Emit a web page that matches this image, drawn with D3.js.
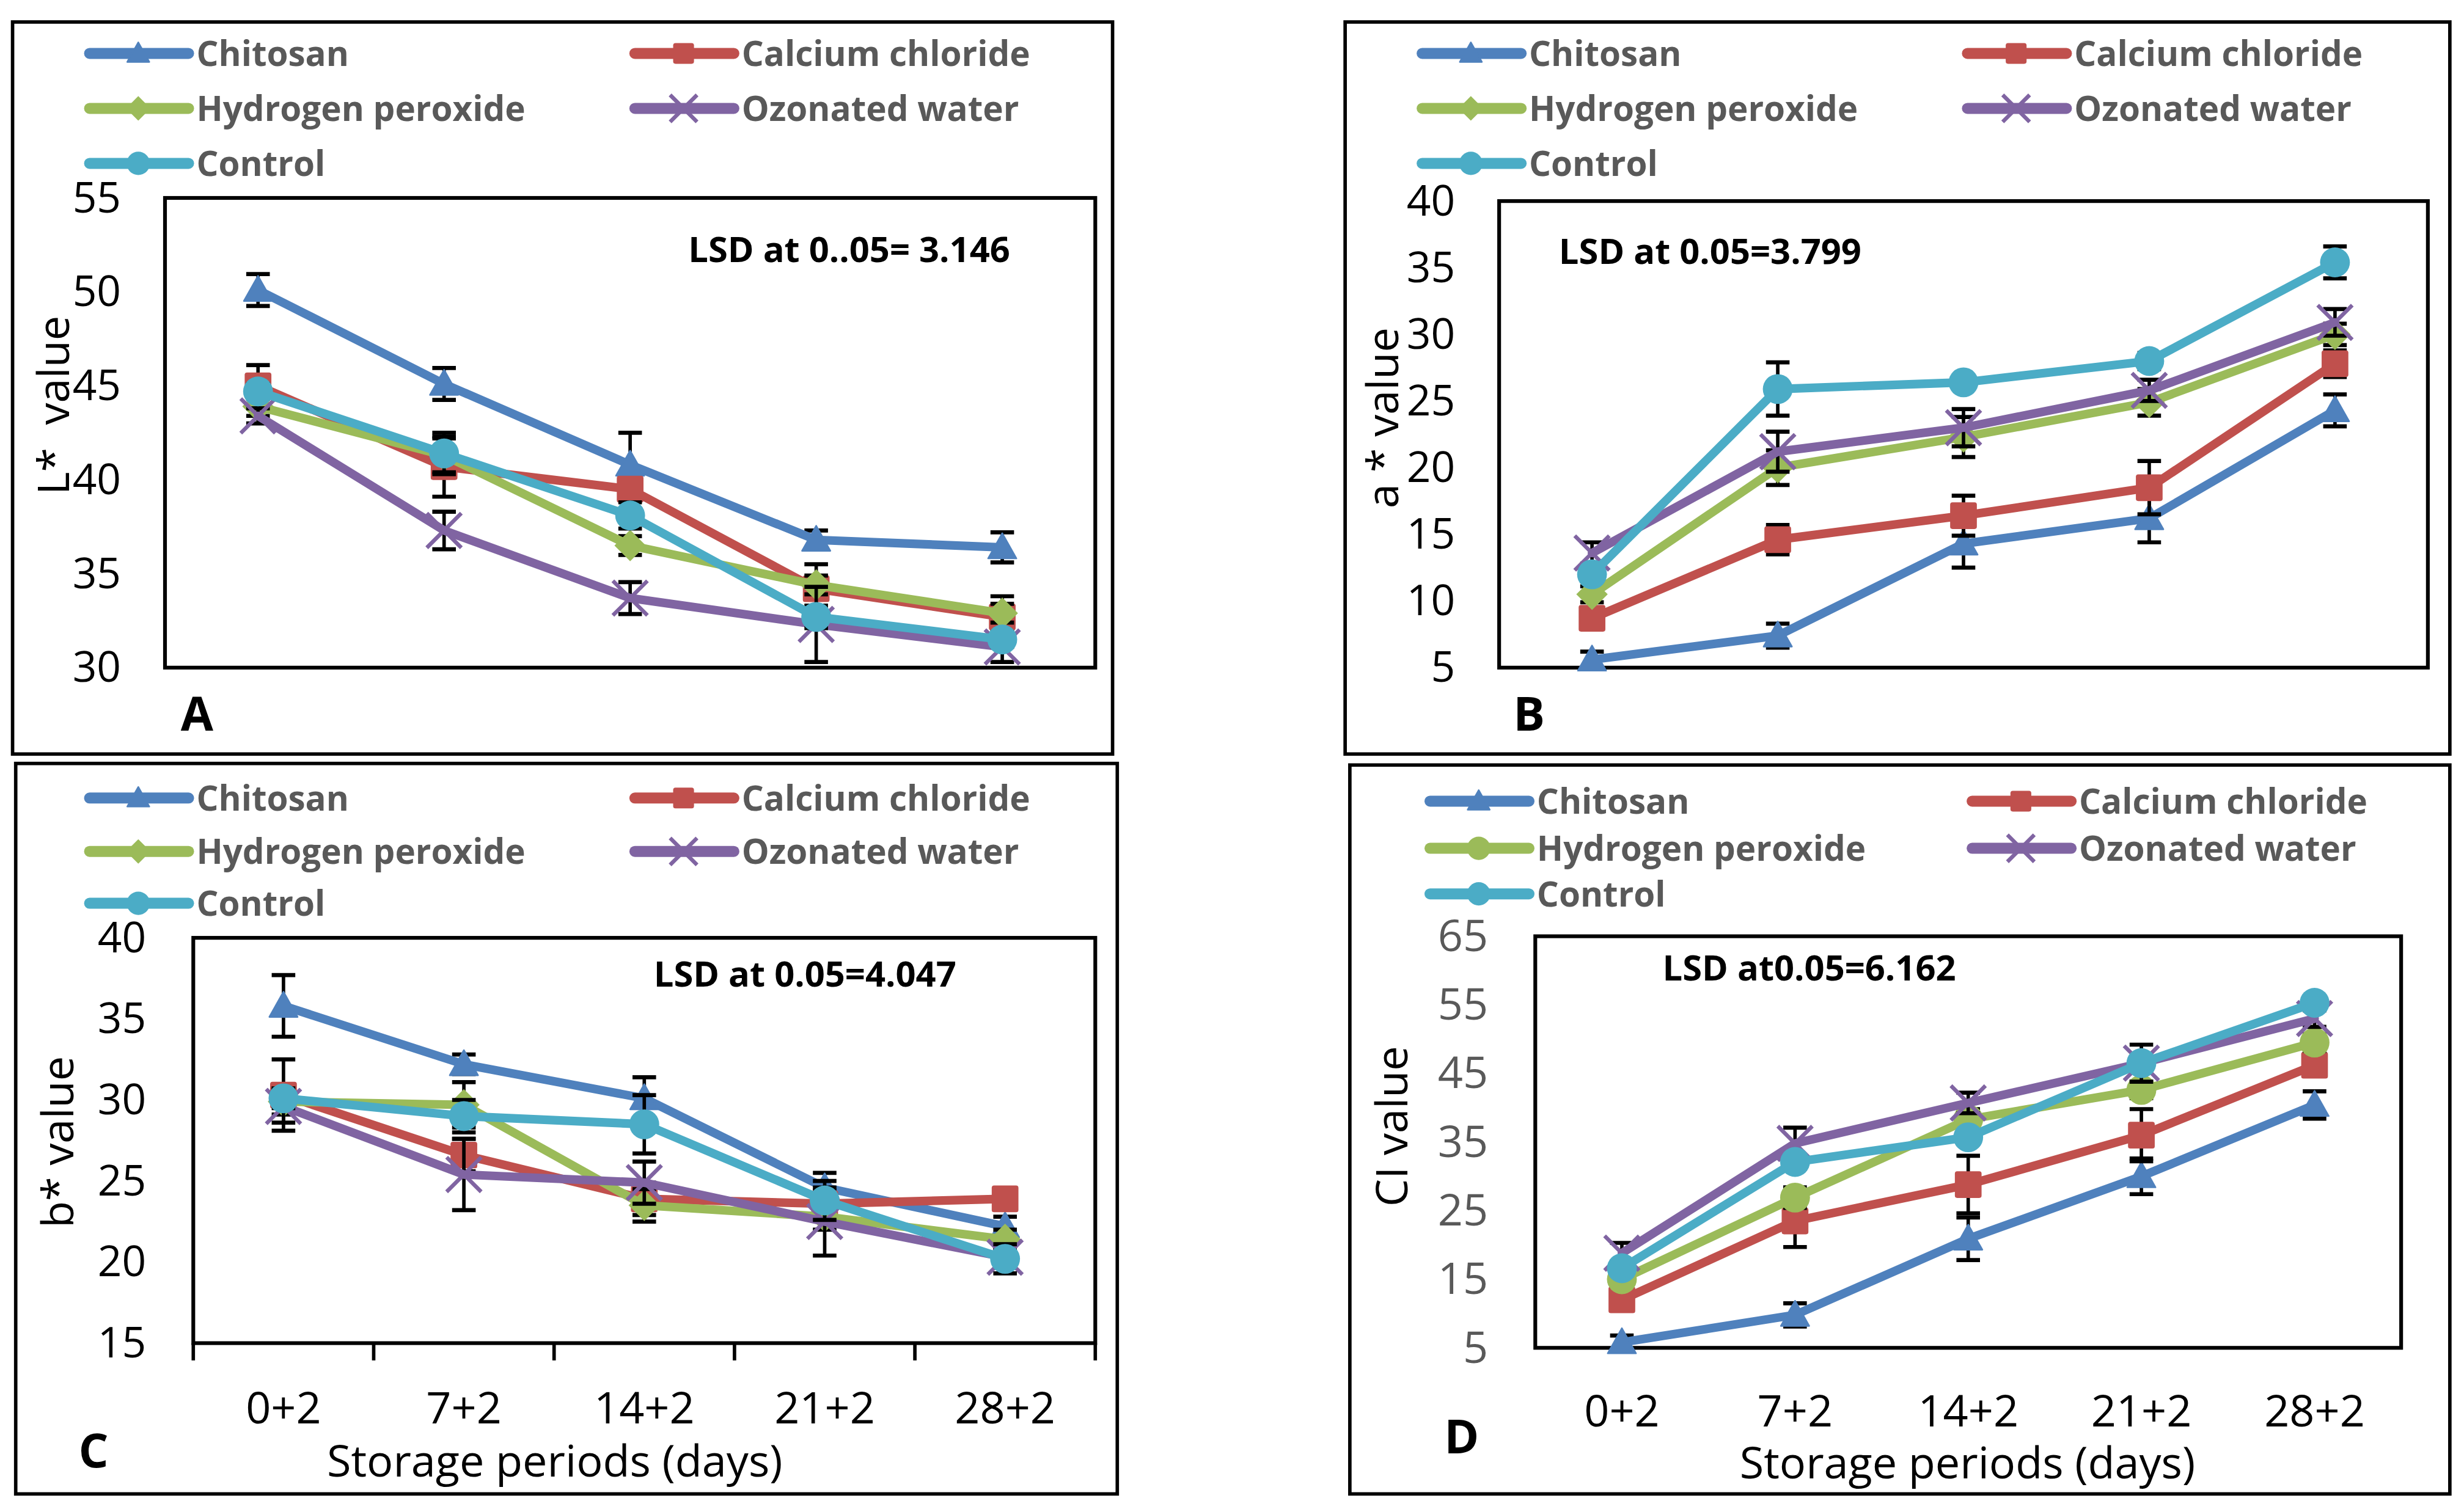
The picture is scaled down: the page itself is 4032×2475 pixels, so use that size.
<!DOCTYPE html>
<html>
<head>
<meta charset="utf-8">
<script src="https://cdn.jsdelivr.net/npm/d3@7"></script>
<style>
  body { margin: 0; background: #fff; }
  text { font-family: "Open Sans", sans-serif; }
</style>
</head>
<body>
<script>
// Four colour panels: L*, a*, b* and CI values over storage periods

const periods = ["0+2", "7+2", "14+2", "21+2", "28+2"];
const seriesNames = ["Chitosan", "Calcium chloride", "Hydrogen peroxide", "Ozonated water", "Control"];
const seriesColors = ["#4F81BD", "#C0504D", "#9BBB59", "#8064A2", "#4BACC6"];

// Panel A - L* value
const lChitosan = [50.1, 45.1, 40.8, 36.8, 36.4];
const lCalcium  = [45.0, 40.7, 39.5, 34.2, 32.7];
const lPeroxide = [43.9, 41.3, 36.5, 34.4, 32.9];
const lOzonated = [43.4, 37.3, 33.7, 32.3, 31.1];
const lControl  = [44.7, 41.4, 38.1, 32.7, 31.5];
const lErrChitosan = [0.85, 0.85, 1.7, 0.5, 0.8];
const lErrCalcium  = [1.1, 1.6, 0.6, 1.3, 1.1];
const lErrPeroxide = [0.5, 0.9, 0.5, 0.5, 0.5];
const lErrOzonated = [0.4, 1.0, 0.85, 2.0, 0.8];
const lErrControl  = [0.4, 1.1, 0.7, 0.6, 0.4];
const lTicks = [30, 35, 40, 45, 50, 55];

// Panel B - a* value
const aChitosan = [5.6, 7.4, 14.3, 16.2, 24.3];
const aCalcium  = [8.7, 14.6, 16.4, 18.5, 27.8];
const aPeroxide = [10.5, 20.0, 22.3, 24.9, 30.0];
const aOzonated = [13.6, 21.2, 23.0, 25.8, 30.9];
const aControl  = [12.0, 25.9, 26.4, 28.0, 35.4];
const aErrChitosan = [0.6, 0.9, 1.8, 1.8, 1.2];
const aErrCalcium  = [0.5, 1.1, 1.5, 2.0, 1.0];
const aErrPeroxide = [0.6, 1.3, 1.5, 1.0, 0.8];
const aErrOzonated = [0.8, 1.5, 1.4, 0.8, 1.0];
const aErrControl  = [0.5, 2.0, 0.5, 0.6, 1.2];
const aTicks = [5, 10, 15, 20, 25, 30, 35, 40];

// Panel C - b* value
const bChitosan = [35.8, 32.2, 30.1, 24.6, 22.2];
const bCalcium  = [30.3, 26.6, 23.9, 23.6, 23.9];
const bPeroxide = [29.9, 29.7, 23.5, 22.8, 21.4];
const bOzonated = [29.6, 25.4, 24.9, 22.5, 20.3];
const bControl  = [30.1, 29.0, 28.5, 23.8, 20.2];
const bErrChitosan = [1.9, 0.6, 1.3, 0.9, 0.6];
const bErrCalcium  = [2.2, 1.0, 1.0, 0.8, 0.4];
const bErrPeroxide = [0.8, 1.4, 1.0, 0.8, 0.6];
const bErrOzonated = [1.0, 2.2, 1.3, 2.1, 0.6];
const bErrControl  = [0.6, 1.0, 1.8, 1.2, 0.9];
const bTicks = [15, 20, 25, 30, 35, 40];

// Panel D - CI value
const ciChitosan = [5.8, 9.8, 20.9, 30.0, 40.4];
const ciCalcium  = [12.0, 23.5, 28.8, 36.0, 46.2];
const ciPeroxide = [15.0, 26.9, 38.3, 42.6, 49.5];
const ciOzonated = [18.8, 34.8, 40.7, 46.5, 53.0];
const ciControl  = [16.6, 32.1, 35.7, 46.5, 55.3];
const ciErrChitosan = [1.0, 1.7, 3.1, 2.6, 2.0];
const ciErrCalcium  = [1.0, 3.8, 4.2, 3.8, 1.0];
const ciErrPeroxide = [1.0, 1.5, 1.5, 1.2, 1.2];
const ciErrOzonated = [1.5, 2.3, 1.5, 2.7, 1.2];
const ciErrControl  = [1.0, 1.0, 1.0, 1.0, 1.0];
const ciTicks = [5, 15, 25, 35, 45, 55, 65];

let svgWidth = 4032;
let svgHeight = 2475;
let vbW = 1568;
let vbH = svgHeight * vbW / svgWidth;

let svg = d3.select("body")
            .append("svg")
            .attr("width", svgWidth)
            .attr("height", svgHeight)
            .attr("viewBox", `0 0 ${vbW} ${vbH}`);

svg.append("rect").attr("width", vbW).attr("height", vbH).attr("fill", "#fff");

let panels = [
  {
    frame: [8, 14, 700, 466], plot: [105, 126, 697, 425],
    domain: [30, 55], ticks: lTicks, tickPad: 28, tickColor: "#000",
    values: [lChitosan, lCalcium, lPeroxide, lOzonated, lControl],
    errors: [lErrChitosan, lErrCalcium, lErrPeroxide, lErrOzonated, lErrControl],
    yTitle: "L*  value", yTitleX: 34, yTitleY: 258,
    lsd: "LSD at 0..05= 3.146", lsdX: 438, lsdY: 167,
    letter: "A", letterX: 115, letterY: 465,
    legendX: [54, 401], legendY: [34, 69, 104], peroxideShape: "diamond",
    xAxis: false
  },
  {
    frame: [856, 14, 703, 466], plot: [954, 128, 1545, 425],
    domain: [5, 40], ticks: aTicks, tickPad: 28, tickColor: "#000",
    values: [aChitosan, aCalcium, aPeroxide, aOzonated, aControl],
    errors: [aErrChitosan, aErrCalcium, aErrPeroxide, aErrOzonated, aErrControl],
    yTitle: "a * value", yTitleX: 880, yTitleY: 266,
    lsd: "LSD at 0.05=3.799", lsdX: 992, lsdY: 168,
    letter: "B", letterX: 963, letterY: 465,
    legendX: [902, 1249], legendY: [34, 69, 104], peroxideShape: "diamond",
    xAxis: false
  },
  {
    frame: [10, 486, 701, 465], plot: [123, 597, 697, 855],
    domain: [15, 40], ticks: bTicks, tickPad: 30, tickColor: "#000",
    values: [bChitosan, bCalcium, bPeroxide, bOzonated, bControl],
    errors: [bErrChitosan, bErrCalcium, bErrPeroxide, bErrOzonated, bErrControl],
    yTitle: "b* value", yTitleX: 37, yTitleY: 727,
    lsd: "LSD at 0.05=4.047", lsdX: 416, lsdY: 628,
    letter: "C", letterX: 50, letterY: 934,
    legendX: [54, 401], legendY: [508, 542, 575], peroxideShape: "diamond",
    xAxis: true, xTicks: true, xLabelY: 906, xTitleX: 353, xTitleY: 940
  },
  {
    frame: [859, 487, 700, 464], plot: [977, 596, 1528, 858],
    domain: [5, 65], ticks: ciTicks, tickPad: 30, tickColor: "#595959",
    values: [ciChitosan, ciCalcium, ciPeroxide, ciOzonated, ciControl],
    errors: [ciErrChitosan, ciErrCalcium, ciErrPeroxide, ciErrOzonated, ciErrControl],
    yTitle: "CI value", yTitleX: 886, yTitleY: 717,
    lsd: "LSD at0.05=6.162", lsdX: 1058, lsdY: 624,
    letter: "D", letterX: 919, letterY: 925,
    legendX: [907, 1252], legendY: [510, 540, 569], peroxideShape: "circle",
    xAxis: true, xTicks: false, xLabelY: 908, xTitleX: 1252, xTitleY: 941
  }
];

// draw a marker shape centred on 0,0, s scales it
function marker(g, shape, color, s) {
  if (shape === "triangle") {
    g.append("path").attr("d", `M0,${-9 * s}L${9 * s},${7 * s}L${-9 * s},${7 * s}Z`)
     .attr("fill", color).attr("stroke", color).attr("stroke-width", 1).attr("stroke-linejoin", "round");
  } else if (shape === "square") {
    g.append("rect").attr("x", -8.5 * s).attr("y", -8.5 * s)
     .attr("width", 17 * s).attr("height", 17 * s).attr("rx", 1.5).attr("fill", color);
  } else if (shape === "diamond") {
    g.append("path").attr("d", `M0,${-10 * s}L${10 * s},0L0,${10 * s}L${-10 * s},0Z`).attr("fill", color);
  } else if (shape === "circle") {
    g.append("circle").attr("r", 9.5 * s).attr("fill", color);
  } else if (shape === "x") {
    let r = 11 * s;
    g.append("path").attr("d", `M${-r},${-r}L${r},${r}M${-r},${r}L${r},${-r}`)
     .attr("stroke", color).attr("stroke-width", 2.5);
  }
}

panels.forEach(p => {
  let shapes = ["triangle", "square", p.peroxideShape, "x", "circle"];
  let g = svg.append("g");

  // panel frame
  g.append("rect")
   .attr("x", p.frame[0]).attr("y", p.frame[1])
   .attr("width", p.frame[2]).attr("height", p.frame[3])
   .attr("fill", "none").attr("stroke", "#000").attr("stroke-width", 2.2);

  let xScale = d3.scaleBand().domain(periods).range([p.plot[0], p.plot[2]]);
  let yScale = d3.scaleLinear().domain(p.domain).range([p.plot[3], p.plot[1]]);

  // plot area box
  g.append("rect")
   .attr("x", p.plot[0]).attr("y", p.plot[1])
   .attr("width", p.plot[2] - p.plot[0]).attr("height", p.plot[3] - p.plot[1])
   .attr("fill", "none").attr("stroke", "#000").attr("stroke-width", 2.4);

  // y axis labels
  let yAxis = g.append("g")
               .attr("transform", `translate(${p.plot[0]},0)`)
               .call(d3.axisLeft(yScale).tickValues(p.ticks).tickSize(0).tickPadding(p.tickPad));
  yAxis.select(".domain").remove();
  yAxis.selectAll("text")
       .attr("font-family", "'Open Sans', sans-serif")
       .attr("font-size", p.tickColor === "#000" ? 27 : 28)
       .attr("fill", p.tickColor);

  // x axis
  if (p.xAxis) {
    let xAxis = g.append("g")
                 .attr("transform", `translate(0,${p.plot[3]})`)
                 .call(d3.axisBottom(xScale).tickSize(0).tickPadding(0));
    xAxis.select(".domain").remove();
    xAxis.selectAll("text")
         .attr("font-family", "'Open Sans', sans-serif")
         .attr("font-size", 28)
         .attr("fill", "#000")
         .attr("dy", null)
         .attr("y", p.xLabelY - p.plot[3]);
    if (p.xTicks) {
      let edges = periods.map(d => xScale(d)).concat([xScale.range()[1]]);
      g.selectAll(".xtick").data(edges).enter().append("line")
       .attr("x1", d => d).attr("x2", d => d)
       .attr("y1", p.plot[3]).attr("y2", p.plot[3] + 11)
       .attr("stroke", "#000").attr("stroke-width", 2.2);
    }
    g.append("text")
     .attr("x", p.xTitleX).attr("y", p.xTitleY)
     .attr("text-anchor", "middle")
     .attr("font-size", 28)
     .attr("fill", "#000")
     .text("Storage periods (days)");
  }

  // y title
  g.append("text")
   .attr("transform", `translate(${p.yTitleX},${p.yTitleY}) rotate(-90)`)
   .attr("text-anchor", "middle")
   .attr("dy", "0.35em")
   .attr("font-size", 28)
   .attr("fill", "#000")
   .style("white-space", "pre")
   .text(p.yTitle);

  // series
  let cx = d => xScale(d) + xScale.bandwidth() / 2;
  p.values.forEach((vals, i) => {
    let color = seriesColors[i];
    let errs = p.errors[i];
    let line = d3.line().x((d, j) => cx(periods[j])).y(d => yScale(d));

    // error bars
    let eb = g.append("g");
    vals.forEach((v, j) => {
      let x = cx(periods[j]);
      let y1 = yScale(v + errs[j]), y2 = yScale(v - errs[j]);
      eb.append("line").attr("x1", x).attr("x2", x).attr("y1", y1).attr("y2", y2)
        .attr("stroke", "#000").attr("stroke-width", 2.2);
      [y1, y2].forEach(yy => eb.append("line")
        .attr("x1", x - 7.5).attr("x2", x + 7.5).attr("y1", yy).attr("y2", yy)
        .attr("stroke", "#000").attr("stroke-width", 2.6));
    });

    g.append("path")
     .datum(vals)
     .attr("d", line)
     .attr("fill", "none")
     .attr("stroke", color)
     .attr("stroke-width", 5.5)
     .attr("stroke-linejoin", "round")
     .attr("stroke-linecap", "round");

    vals.forEach((v, j) => {
      let m = g.append("g").attr("transform", `translate(${cx(periods[j])},${yScale(v)})`);
      marker(m, shapes[i], color, 1);
    });
  });

  // LSD note
  g.append("text")
   .attr("x", p.lsdX).attr("y", p.lsdY)
   .attr("font-size", 22.5).attr("font-weight", "bold")
   .attr("fill", "#000")
   .text(p.lsd);

  // panel letter
  g.append("text")
   .attr("x", p.letterX).attr("y", p.letterY)
   .attr("font-size", 30).attr("font-weight", "bold")
   .attr("fill", "#000")
   .text(p.letter);

  // legend
  seriesNames.forEach((name, i) => {
    let lx = p.legendX[i % 2];
    let ly = p.legendY[Math.floor(i / 2)];
    let lg = g.append("g").attr("transform", `translate(${lx},${ly})`);
    lg.append("line").attr("x1", 3).attr("x2", 66).attr("y1", 0).attr("y2", 0)
      .attr("stroke", seriesColors[i]).attr("stroke-width", 7).attr("stroke-linecap", "round");
    let mk = lg.append("g").attr("transform", "translate(34,0)");
    marker(mk, shapes[i], seriesColors[i], 0.78);
    lg.append("text")
      .attr("x", 71).attr("y", 0).attr("dy", "0.36em")
      .attr("font-family", "Lato, sans-serif")
      .attr("font-size", 22).attr("font-weight", "bold")
      .attr("fill", "#595959")
      .text(name);
  });
});
</script>
</body>
</html>
